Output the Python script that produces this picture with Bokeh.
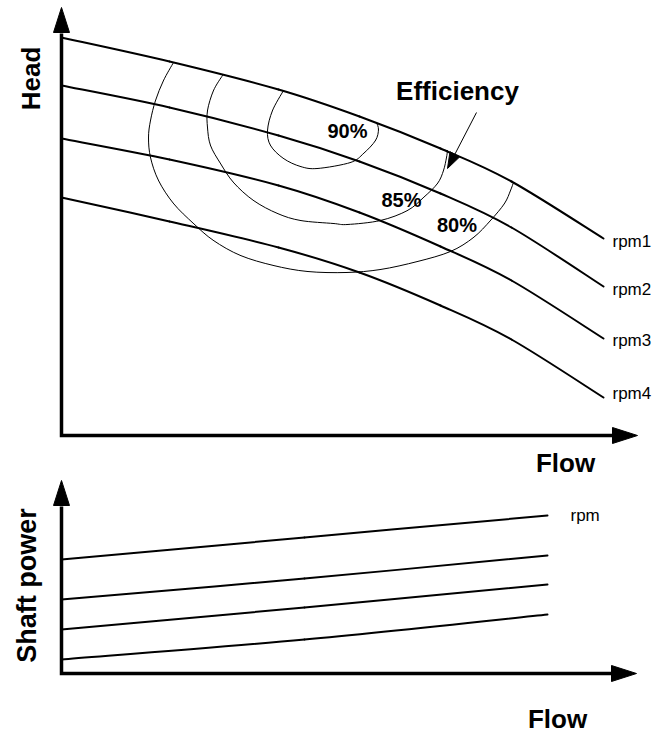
import numpy as np
from bokeh.plotting import figure
from bokeh.layouts import column
from bokeh.models import Range1d
from bokeh.core.properties import value
from bokeh.embed import file_html
from bokeh.resources import INLINE

# ---------------- data (schematic units) ----------------
flow_pts = [0, 10.8, 21.7, 29.8, 37.9, 45.0, 54.2]
head_rpm1 = [39.8, 37.4, 34.6, 31.9, 28.7, 25.4, 19.7]
head_rpm2 = [35.0, 32.8, 30.0, 27.4, 24.2, 20.8, 14.9]
head_rpm3 = [29.7, 27.6, 25.0, 22.3, 18.9, 15.5, 9.7]
head_rpm4 = [23.8, 21.4, 18.8, 16.3, 13.0, 9.6, 3.8]
speed_labels = ["rpm1", "rpm2", "rpm3", "rpm4"]

eff90_flow = [22.2, 21.1, 20.6, 20.9, 22.2, 23.9, 25.6, 28.9, 30.2, 31.4, 31.7, 31.5]
eff90_head = [34.5, 32.5, 30.5, 29.0, 27.7, 26.9, 26.7, 27.3, 28.2, 29.5, 30.6, 31.3]
eff85_flow = [16.1, 15.2, 14.6, 14.6, 14.9, 15.9, 17.2, 19.2, 21.6, 23.9, 27.2, 28.6,
              31.9, 34.6, 36.2, 37.6, 38.2, 38.5, 38.6]
eff85_head = [36.0, 34.5, 32.5, 30.8, 29.0, 27.2, 25.3, 23.5, 22.2, 21.5, 21.2, 21.1,
              21.5, 22.5, 23.8, 25.2, 26.5, 27.8, 28.5]
eff80_flow = [11.2, 10.2, 9.4, 8.9, 8.7, 8.9, 9.7, 11.2, 13.2, 15.2, 17.9, 21.2, 24.6,
              28.5, 31.9, 35.6, 38.9, 41.2, 42.9, 44.3, 44.9, 45.2]
eff80_head = [37.3, 35.5, 33.5, 31.5, 29.8, 27.8, 25.5, 23.2, 21.2, 19.5, 18.0, 17.0, 16.4,
              16.3, 16.6, 17.4, 18.4, 19.8, 21.5, 23.2, 24.5, 25.3]
eff_labels = ["90%", "85%", "80%"]
eff_label_flow = [28.6, 34.0, 39.55]
eff_label_head = [30.5, 23.6, 21.1]

power_flow = [0, 24.3, 48.6]
power_1 = [11.4, 13.6, 15.8]
power_2 = [7.4, 9.5, 11.8]
power_3 = [4.4, 6.6, 8.9]
power_4 = [1.4, 3.4, 5.9]
power_label = "rpm"

FONT = value("Liberation Sans")


def smooth(xs, ys):
    """Catmull-Rom path through the given points, as cubic Bezier pieces."""
    P = np.column_stack([xs, ys]).astype(float)
    E = np.vstack([P[0], P, P[-1]])
    out = {k: [] for k in ("x0", "y0", "x1", "y1", "cx0", "cy0", "cx1", "cy1")}
    for i in range(len(P) - 1):
        p0, p1, p2, p3 = E[i], E[i + 1], E[i + 2], E[i + 3]
        c1 = p1 + (p2 - p0) / 6.0
        c2 = p2 - (p3 - p1) / 6.0
        out["x0"].append(p1[0]); out["y0"].append(p1[1])
        out["x1"].append(p2[0]); out["y1"].append(p2[1])
        out["cx0"].append(c1[0]); out["cy0"].append(c1[1])
        out["cx1"].append(c2[0]); out["cy1"].append(c2[1])
    return out


def head_tri(tip, frm, length, half_w):
    tip = np.array(tip, float); frm = np.array(frm, float)
    u = tip - frm
    u = u / np.hypot(*u)
    n = np.array([-u[1], u[0]])
    b = tip - u * length
    return [tip[0], b[0] + n[0] * half_w, b[0] - n[0] * half_w], \
           [tip[1], b[1] + n[1] * half_w, b[1] - n[1] * half_w], b


def make_fig(w, h, xr, yr):
    p = figure(width=w, height=h, x_range=Range1d(*xr), y_range=Range1d(*yr),
               x_axis_type=None, y_axis_type=None, toolbar_location=None,
               output_backend="svg", min_border=0)
    p.outline_line_color = None
    p.background_fill_color = "white"
    p.border_fill_color = "white"
    return p


def draw_axes(p, x_tip, y_tip):
    hx, hy, bx = head_tri((x_tip, 0), (0, 0), 2.5, 0.8)
    vx, vy, by = head_tri((0, y_tip), (0, 0), 2.5, 0.8)
    p.patches([hx, vx], [hy, vy], fill_color="black", line_color="black", line_width=1)
    p.line([0, 0, bx[0] + 0.1], [by[1] - 0.1, 0, 0], line_width=3.5, line_color="black",
           line_join="miter")


def label(p, x, y, txt, size="26px", bold=True, angle=0.0, align="center"):
    p.text(x=x, y=y, text=txt, angle=angle, text_font=FONT, text_font_size=size,
           text_font_style="bold" if bold else "normal", text_align=align,
           text_baseline="middle", text_color="black")


# ---------------- top chart: head vs flow ----------------
top = make_fig(652, 479, (-6.1, 59.1), (-4.4, 43.5))
draw_axes(top, 57.6, 42.8)

for hv in (head_rpm1, head_rpm2, head_rpm3, head_rpm4):
    top.bezier(**smooth(flow_pts, hv), line_width=2, line_color="black", line_cap="round")

for fx, hy in ((eff90_flow, eff90_head), (eff85_flow, eff85_head), (eff80_flow, eff80_head)):
    top.bezier(**smooth(fx, hy), line_width=1, line_color="black", line_cap="round")

label(top, [flow_pts[-1] + 0.9] * 4,
      [head_rpm1[-1] - 0.3, head_rpm2[-1] - 0.3, head_rpm3[-1] - 0.2, head_rpm4[-1] + 0.4],
      speed_labels, size="17px", bold=False, align="left")

label(top, eff_label_flow, eff_label_head, eff_labels, size="20px")

# efficiency pointer
ax, ay, ab = head_tri((38.6, 26.7), (41.5, 32.3), 1.6, 0.55)
top.line([41.5, ab[0]], [32.3, ab[1]], line_width=1, line_color="black")
top.patches([ax], [ay], fill_color="black", line_color="black", line_width=1)
label(top, [39.6], [34.5], ["Efficiency"])

label(top, [-3.1], [35.7], ["Head"], angle=np.pi / 2)
label(top, [50.4], [-2.7], ["Flow"])

# ---------------- bottom chart: shaft power vs flow ----------------
bot = make_fig(652, 254, (-6.1, 59.1), (-6.0, 19.4))
draw_axes(bot, 57.5, 19.3)
for pv in (power_1, power_2, power_3, power_4):
    bot.bezier(**smooth(power_flow, pv), line_width=2, line_color="black", line_cap="round")
label(bot, [power_flow[-1] + 2.3], [power_1[-1]], [power_label], size="17px", bold=False,
      align="left")
label(bot, [-3.5], [8.8], ["Shaft power"], angle=np.pi / 2, size="27px")
label(bot, [49.6], [-4.55], ["Flow"])

layout = column(top, bot, spacing=0)
open("out.html", "w").write(file_html(layout, INLINE))
